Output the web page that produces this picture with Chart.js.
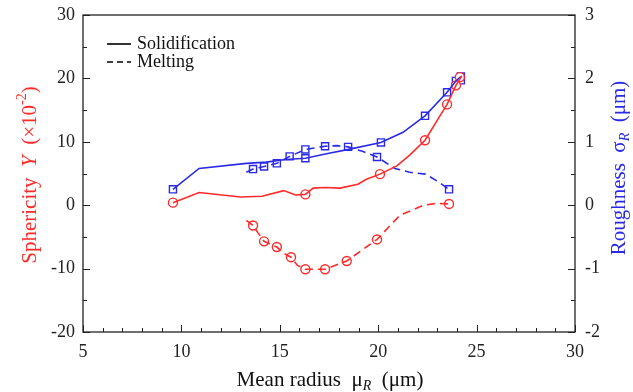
<!DOCTYPE html>
<html>
<head>
<meta charset="utf-8">
<script src="https://cdn.jsdelivr.net/npm/chart.js@4.4.0/dist/chart.umd.min.js"></script>
<style>
  html, body { margin: 0; padding: 0; background: #fff; }
  #wrap { width: 633px; height: 392px; }
</style>
</head>
<body>
<div id="wrap"><canvas id="chart" width="633" height="392"></canvas></div>
<script>
// Solidification sphericity (left axis, x10^-2)
const solidSphX = [9.57, 10.9, 13.0, 14.1, 15.2, 15.8, 16.3, 16.7, 17.3, 18.06, 18.97, 19.4, 20.09, 20.95, 21.6, 22.38, 23.1, 23.5, 23.95, 24.25];
const solidSphY = [0.4, 2.0, 1.3, 1.4, 2.3, 1.6, 1.7, 2.7, 2.8, 2.7, 3.3, 4.1, 4.9, 6.2, 7.9, 10.25, 13.9, 15.9, 18.9, 20.4];
const solidSphMarkX = [9.57, 16.3, 20.09, 22.38, 23.5, 23.95, 24.15];
const solidSphMarkY = [0.4, 1.7, 4.9, 10.25, 15.9, 18.9, 20.2];

// Melting sphericity
const meltSphX = [13.3, 13.64, 13.9, 14.2, 14.85, 15.2, 15.57, 15.9, 16.3, 16.8, 17.3, 18.4, 19.94, 21.1, 22.3, 23.0, 23.6];
const meltSphY = [-2.4, -3.2, -4.4, -5.7, -6.6, -7.6, -8.2, -9.5, -10.1, -10.1, -10.1, -8.8, -5.4, -1.6, 0.0, 0.3, 0.2];
const meltSphMarkX = [13.64, 14.2, 14.85, 15.57, 16.3, 17.3, 18.4, 19.94, 23.6];
const meltSphMarkY = [-3.2, -5.7, -6.6, -8.2, -10.1, -10.1, -8.8, -5.4, 0.2];

// Solidification roughness (right axis, um)
const solidRoughX = [9.57, 10.9, 13.3, 14.3, 15.3, 16.3, 17.5, 18.5, 20.14, 21.26, 22.38, 23.5, 23.95, 24.2];
const solidRoughY = [0.25, 0.58, 0.66, 0.68, 0.72, 0.74, 0.82, 0.88, 0.99, 1.15, 1.41, 1.78, 1.96, 2.03];
const solidRoughMarkX = [9.57, 16.3, 20.14, 22.38, 23.5, 23.95, 24.2, 24.2];
const solidRoughMarkY = [0.25, 0.74, 0.99, 1.41, 1.78, 1.96, 1.97, 2.03];

// Melting roughness
const meltRoughX = [13.3, 13.64, 14.2, 14.85, 15.5, 16.3, 17.3, 17.9, 18.47, 19.2, 19.94, 20.85, 21.6, 22.4, 23.0, 23.6];
const meltRoughY = [0.52, 0.57, 0.61, 0.66, 0.77, 0.88, 0.93, 0.94, 0.92, 0.85, 0.76, 0.58, 0.52, 0.49, 0.38, 0.25];
const meltRoughMarkX = [13.64, 14.2, 14.85, 15.5, 16.3, 17.3, 18.47, 19.94, 23.6];
const meltRoughMarkY = [0.57, 0.61, 0.66, 0.77, 0.88, 0.93, 0.92, 0.76, 0.25];

const xTicks = [5, 10, 15, 20, 25, 30];
const yTicks = [-20, -10, 0, 10, 20, 30];
const y2Ticks = [-2, -1, 0, 1, 2, 3];

const RED = '#ff2a2a';
const BLUE = '#2a2ae6';
const SERIF = '"Liberation Serif", "DejaVu Serif", serif';

function pts(xs, ys) {
    return xs.map((x, i) => ({ x: x, y: ys[i] }));
}

function lineSet(xs, ys, color, axis, dashed) {
    return {
        data: pts(xs, ys),
        yAxisID: axis,
        borderColor: color,
        borderWidth: 1.6,
        borderDash: dashed ? [8, 5] : [],
        pointRadius: 0,
        showLine: true,
        fill: false,
        tension: 0
    };
}

function markSet(xs, ys, color, axis, style) {
    return {
        data: pts(xs, ys),
        yAxisID: axis,
        borderColor: color,
        backgroundColor: '#fff',
        borderWidth: 1.4,
        pointStyle: style,
        pointRadius: style === 'rect' ? 5 : 4.5,
        showLine: false
    };
}

// draws text parts in a row, centred on (0,0) of the current transform
function drawParts(ctx, parts) {
    let total = 0;
    parts.forEach(p => { ctx.font = p.font; p.w = ctx.measureText(p.t).width; total += p.w; });
    let x = -total / 2;
    parts.forEach(p => {
        ctx.font = p.font;
        ctx.fillText(p.t, x, p.dy || 0);
        x += p.w;
    });
}

const framePlugin = {
    id: 'frame',
    afterDraw(chart) {
        const ctx = chart.ctx;
        const a = chart.chartArea;
        const xs = chart.scales.x, ys = chart.scales.y, y2 = chart.scales.y2;
        ctx.save();
        ctx.strokeStyle = '#222';
        ctx.lineWidth = 1.3;
        ctx.strokeRect(a.left, a.top, a.right - a.left, a.bottom - a.top);

        ctx.lineWidth = 1;
        ctx.beginPath();
        // x ticks every 1, major every 5
        for (let v = 5; v <= 30; v++) {
            const px = Math.round(xs.getPixelForValue(v)) + 0.5;
            const len = v % 5 === 0 ? 7 : 4;
            ctx.moveTo(px, a.bottom);
            ctx.lineTo(px, a.bottom - len);
        }
        // left ticks every 5
        for (let v = -20; v <= 30; v += 5) {
            const py = Math.round(ys.getPixelForValue(v)) + 0.5;
            const len = v % 10 === 0 ? 7 : 4;
            ctx.moveTo(a.left, py);
            ctx.lineTo(a.left + len, py);
        }
        // right ticks every 0.5
        for (let v = -2; v <= 3.001; v += 0.5) {
            const py = Math.round(y2.getPixelForValue(v)) + 0.5;
            const len = Math.abs(v - Math.round(v)) < 0.01 ? 7 : 4;
            ctx.moveTo(a.right, py);
            ctx.lineTo(a.right - len, py);
        }
        ctx.stroke();

        // legend
        ctx.strokeStyle = '#000';
        ctx.lineWidth = 1.6;
        ctx.beginPath();
        ctx.moveTo(107, 44); ctx.lineTo(131, 44);
        ctx.stroke();
        ctx.setLineDash([6, 4]);
        ctx.beginPath();
        ctx.moveTo(107, 62); ctx.lineTo(131, 62);
        ctx.stroke();
        ctx.setLineDash([]);
        ctx.fillStyle = '#111';
        ctx.font = '18px ' + SERIF;
        ctx.textAlign = 'left';
        ctx.textBaseline = 'middle';
        ctx.fillText('Solidification', 137, 44);
        ctx.fillText('Melting', 137, 62);

        // axis titles
        const f = '21px ' + SERIF;
        const fi = 'italic 21px ' + SERIF;
        const fs = 'italic 14px ' + SERIF;
        const fsup = '14px ' + SERIF;
        ctx.textBaseline = 'middle';
        ctx.textAlign = 'left';

        ctx.save();
        ctx.translate(330, 380);
        ctx.fillStyle = '#111';
        drawParts(ctx, [
            { t: 'Mean radius  \u03bc', font: f },
            { t: 'R', font: fs, dy: 6 },
            { t: '  (\u03bcm)', font: f }
        ]);
        ctx.restore();

        ctx.save();
        ctx.translate(30, 175);
        ctx.rotate(-Math.PI / 2);
        ctx.fillStyle = RED;
        drawParts(ctx, [
            { t: 'Sphericity  ', font: f },
            { t: 'Y', font: fi },
            { t: '  (\u00d710', font: f },
            { t: '-2', font: fsup, dy: -8 },
            { t: ')', font: f }
        ]);
        ctx.restore();

        ctx.save();
        ctx.translate(619, 168);
        ctx.rotate(-Math.PI / 2);
        ctx.fillStyle = BLUE;
        drawParts(ctx, [
            { t: 'Roughness  \u03c3', font: f },
            { t: 'R', font: fs, dy: 6 },
            { t: '  (\u03bcm)', font: f }
        ]);
        ctx.restore();

        ctx.restore();
    }
};

const tickFont = { family: SERIF, size: 18 };

// fix the axis box sizes so the plot frame lands where it does in the figure
function fitY(width) {
    return s => { s.width = width; s.paddingTop = 0; s.paddingBottom = 0; };
}

new Chart(document.getElementById('chart').getContext('2d'), {
    type: 'scatter',
    data: {
        datasets: [
            lineSet(solidSphX, solidSphY, RED, 'y', false),
            lineSet(meltSphX, meltSphY, RED, 'y', true),
            lineSet(solidRoughX, solidRoughY, BLUE, 'y2', false),
            lineSet(meltRoughX, meltRoughY, BLUE, 'y2', true),
            markSet(solidSphMarkX, solidSphMarkY, RED, 'y', 'circle'),
            markSet(meltSphMarkX, meltSphMarkY, RED, 'y', 'circle'),
            markSet(solidRoughMarkX, solidRoughMarkY, BLUE, 'y2', 'rect'),
            markSet(meltRoughMarkX, meltRoughMarkY, BLUE, 'y2', 'rect')
        ]
    },
    options: {
        responsive: false,
        animation: false,
        layout: { padding: { top: 15, left: 0, right: 0, bottom: 0 } },
        plugins: { legend: { display: false }, tooltip: { enabled: false } },
        scales: {
            x: {
                type: 'linear', min: 5, max: 30,
                afterBuildTicks: s => { s.ticks = xTicks.map(v => ({ value: v })); },
                afterFit: s => { s.height = 60; s.paddingLeft = 0; s.paddingRight = 0; },
                grid: { display: false, tickLength: 0 },
                border: { display: false },
                ticks: { font: tickFont, color: '#222', padding: 9, maxRotation: 0 }
            },
            y: {
                type: 'linear', position: 'left', min: -20, max: 30,
                afterBuildTicks: s => { s.ticks = yTicks.map(v => ({ value: v })); },
                afterFit: fitY(83),
                grid: { display: false, tickLength: 0 },
                border: { display: false },
                ticks: { font: tickFont, color: '#222', padding: 8 }
            },
            y2: {
                type: 'linear', position: 'right', min: -2, max: 3,
                afterBuildTicks: s => { s.ticks = y2Ticks.map(v => ({ value: v })); },
                afterFit: fitY(58),
                grid: { display: false, tickLength: 0 },
                border: { display: false },
                ticks: { font: tickFont, color: '#222', padding: 10 }
            }
        }
    },
    plugins: [framePlugin]
});
</script>
</body>
</html>
